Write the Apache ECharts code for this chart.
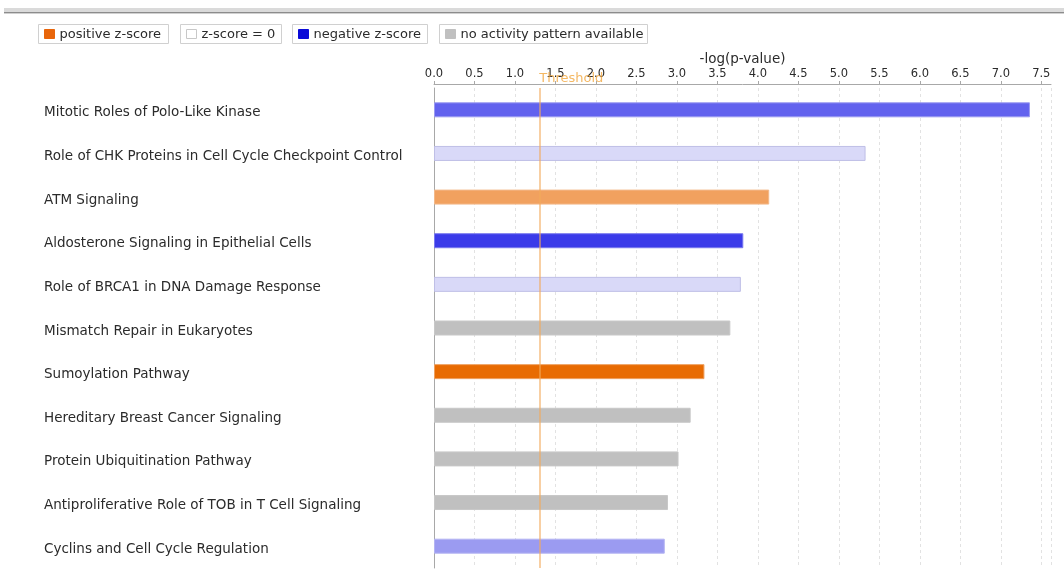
<!DOCTYPE html>
<html>
<head>
<meta charset="utf-8">
<title>Canonical Pathways</title>
<script src="https://cdn.jsdelivr.net/npm/echarts@6/dist/echarts.min.js"></script>
<style>
  html, body { margin: 0; padding: 0; background: #ffffff; }
  #chart { width: 1064px; height: 577px; }
</style>
</head>
<body>
<div id="chart"></div>
<script>
// Pathway names, top to bottom
const categories = [
  'Mitotic Roles of Polo-Like Kinase',
  'Role of CHK Proteins in Cell Cycle Checkpoint Control',
  'ATM Signaling',
  'Aldosterone Signaling in Epithelial Cells',
  'Role of BRCA1 in DNA Damage Response',
  'Mismatch Repair in Eukaryotes',
  'Sumoylation Pathway',
  'Hereditary Breast Cancer Signaling',
  'Protein Ubiquitination Pathway',
  'Antiproliferative Role of TOB in T Cell Signaling',
  'Cyclins and Cell Cycle Regulation'
];

// -log(p-value) per pathway
const values = [7.36, 5.33, 4.14, 3.82, 3.79, 3.66, 3.34, 3.17, 3.02, 2.89, 2.85];

// significance threshold, -log(0.05)
const threshold = 1.3;

// legend entries
const legendLabels = ['positive z-score', 'z-score = 0', 'negative z-score', 'no activity pattern available'];

// bar fills (z-score shading) and legend swatches
const barFill = ['#6262ee', '#d9d9f8', '#f1a15f', '#3b3be9', '#d9d9f8', '#c0c0c0',
                 '#e86b02', '#c0c0c0', '#c0c0c0', '#c0c0c0', '#9b9bf1'];
const barEdge = ['#9a9af0', '#bfbfe6', '#f3b98a', '#7878ee', '#bfbfe6', '#c8c8c8',
                 '#eea060', '#c8c8c8', '#c8c8c8', '#c8c8c8', '#b4b4f2'];
const swatchFill = ['#e8650a', '#ffffff', '#0a0ad8', '#c0c0c0'];
const swatchEdge = ['#e8650a', '#c8c8c8', '#0a0ad8', '#c0c0c0'];

const FONT = 'DejaVu Sans';
const TEXT = '#2b2b2b';

const chart = echarts.init(document.getElementById('chart'), null, { renderer: 'canvas' });

// legend boxes drawn as graphic groups
const legendBoxes = [[38, 130], [180, 101], [292, 135], [439, 208]];
const legendGraphics = legendLabels.map(function (label, i) {
  const b = legendBoxes[i];
  return {
    type: 'group', left: b[0], top: 24,
    children: [
      { type: 'rect', shape: { x: 0, y: 0, width: b[1], height: 19 },
        style: { fill: '#ffffff', stroke: '#d0d0d0', lineWidth: 1 } },
      { type: 'rect', shape: { x: 6, y: 5, width: 10, height: 9 },
        style: { fill: swatchFill[i], stroke: swatchEdge[i], lineWidth: 1 } },
      { type: 'text', x: 21, y: 10,
        style: { text: label, fill: TEXT, font: '13px "' + FONT + '"', verticalAlign: 'middle' } }
    ]
  };
});

chart.setOption({
  animation: false,
  backgroundColor: '#ffffff',
  grid: { left: 434, right: 13, top: 88, bottom: 9, containLabel: false },
  xAxis: {
    type: 'value',
    position: 'top',
    offset: 4,
    min: 0,
    max: 7.62,
    interval: 0.5,
    name: '-log(p-value)',
    nameLocation: 'middle',
    nameGap: 18,
    nameMoveOverlap: false,
    nameTextStyle: { color: TEXT, fontFamily: FONT, fontSize: 13.5 },
    axisLine: { show: true, lineStyle: { color: '#a8a8a8', width: 1 } },
    axisTick: { show: true, length: 3, lineStyle: { color: '#a8a8a8' } },
    axisLabel: {
      color: TEXT, fontFamily: FONT, fontSize: 11.5, margin: 4,
      showMaxLabel: false,
      formatter: function (v) { return v.toFixed(1); }
    },
    splitLine: { show: true, lineStyle: { color: '#e2e2e2', type: [3, 3], width: 1 } }
  },
  yAxis: {
    type: 'category',
    inverse: true,
    data: categories,
    axisLine: { show: true, lineStyle: { color: '#a8a8a8', width: 1 } },
    axisTick: { show: false },
    axisLabel: {
      color: TEXT, fontFamily: FONT, fontSize: 13.5,
      align: 'left', margin: 390,
      verticalAlign: 'top', lineHeight: 6
    }
  },
  series: [{
    type: 'bar',
    barWidth: 15,
    data: values.map(function (v, i) {
      return { value: v, itemStyle: { color: barFill[i], borderColor: barEdge[i], borderWidth: 1 } };
    }),
    markLine: {
      silent: true,
      symbol: 'none',
      lineStyle: { color: '#f3aa5c', width: 1.5, type: 'solid', opacity: 0.75 },
      label: {
        show: true,
        position: 'start',
        formatter: 'Threshold',
        color: '#f0a030',
        fontFamily: FONT,
        fontSize: 13,
        align: 'left',
        distance: 3
      },
      data: [{ xAxis: threshold }]
    }
  }],
  graphic: [
    { type: 'rect', left: 4, top: 8, shape: { width: 1060, height: 4 },
      style: { fill: '#dadada' }, silent: true },
    { type: 'rect', left: 4, top: 12, shape: { width: 1060, height: 1 },
      style: { fill: '#8c8c8c' }, silent: true },
    { type: 'rect', left: 4, top: 13, shape: { width: 1060, height: 1 },
      style: { fill: '#d0d0d0' }, silent: true }
  ].concat(legendGraphics)
});
</script>
</body>
</html>
